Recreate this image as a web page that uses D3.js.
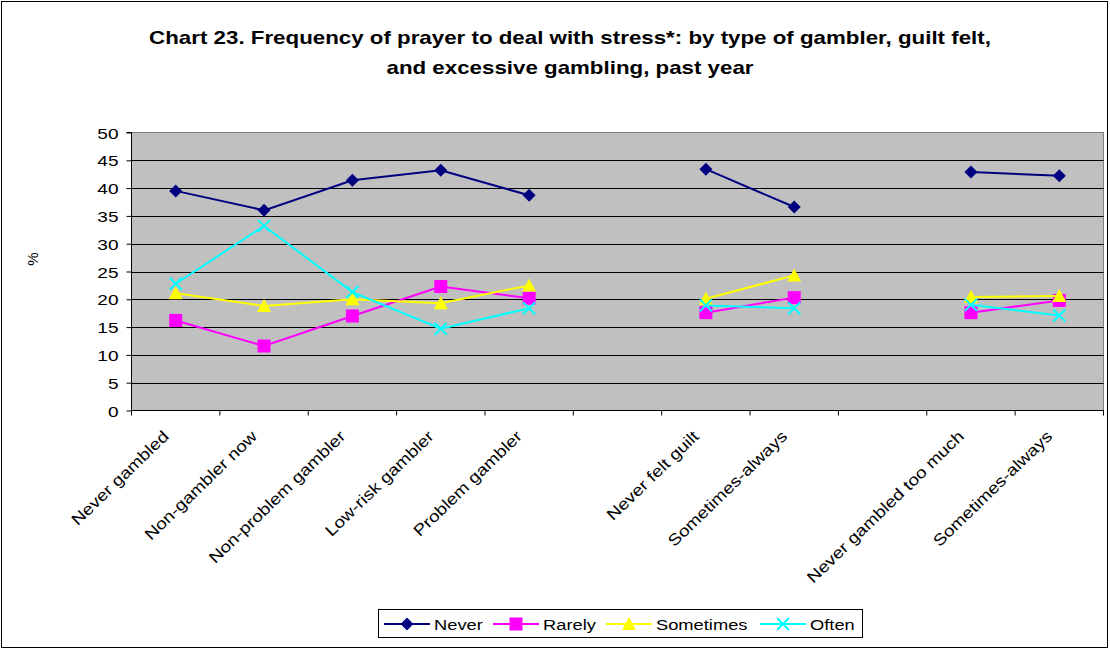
<!DOCTYPE html>
<html><head><meta charset="utf-8">
<script src="https://cdn.jsdelivr.net/npm/d3@7"></script>
<style>body{margin:0;background:#fff}svg{display:block}text{font-family:Arial,"Liberation Sans",sans-serif}</style>
</head><body>
<svg id="c" width="1110" height="649"></svg>
<script>
const categories = ["Never gambled","Non-gambler now","Non-problem gambler","Low-risk gambler","Problem gambler","","Never felt guilt","Sometimes-always","","Never gambled too much","Sometimes-always"];
const never     = [39.5, 36.0, 41.4, 43.2, 38.7, null, 43.4, 36.6, null, 42.9, 42.2];
const rarely    = [16.2, 11.6, 17.0, 22.3, 20.2, null, 17.6, 20.3, null, 17.6, 19.8];
const sometimes = [21.1, 18.8, 20.0, 19.3, 22.5, null, 20.1, 24.3, null, 20.4, 20.6];
const often     = [22.8, 33.2, 21.3, 14.7, 18.4, null, 18.9, 18.4, null, 19.0, 17.1];
const seriesNames = ["Never","Rarely","Sometimes","Often"];
const yTicks = [0,5,10,15,20,25,30,35,40,45,50];
const titleLines = ["Chart 23. Frequency of prayer to deal with stress*: by type of gambler, guilt felt,","and excessive gambling, past year"];

const series = [
  {name: seriesNames[0], values: never, color: "#000080", marker: "diamond"},
  {name: seriesNames[1], values: rarely, color: "#ff00ff", marker: "square"},
  {name: seriesNames[2], values: sometimes, color: "#ffff00", marker: "triangle"},
  {name: seriesNames[3], values: often, color: "#00ffff", marker: "x"}
];
const SX = 1.27; // horizontal text stretch seen in the reference

const svg = d3.select("#c");
svg.append("rect").attr("x",1.5).attr("y",1.5).attr("width",1106).attr("height",646).attr("fill","#fff").attr("stroke","#000").attr("stroke-width",1);

const L = 131.5, R = 1103.5, T = 132.5, B = 410.5;
const x = d3.scaleBand().domain(d3.range(categories.length)).range([L, R]);
const y = d3.scaleLinear().domain([0, 50]).range([B, T]);

svg.selectAll(".title").data(titleLines).join("text")
  .attr("transform",(d,i)=>`translate(570,${44 + i*30}) scale(1.24,1)`)
  .attr("text-anchor","middle").attr("font-size", 18).attr("font-weight","bold").text(d=>d);

const g = svg.append("g");
g.append("rect").attr("x",L).attr("y",T).attr("width",R-L).attr("height",B-T).attr("fill","#c0c0c0").attr("stroke","#808080").attr("stroke-width",1);

g.selectAll(".grid").data(yTicks.filter(t=>t>0 && t<50)).join("line")
  .attr("x1",L).attr("x2",R).attr("y1",d=>Math.round(y(d))+0.5).attr("y2",d=>Math.round(y(d))+0.5)
  .attr("stroke","#000").attr("stroke-width",1);

// y axis
const yAxis = d3.axisLeft(y).tickValues(yTicks).tickSize(5).tickPadding(4);
const ya = g.append("g").attr("transform",`translate(${L},0)`).call(yAxis);
ya.select(".domain").attr("stroke","#000").attr("d",`M-5,${T}H0V${B}`);
ya.selectAll("line").attr("stroke","#000");
ya.selectAll("text").attr("font-size",15).attr("fill","#000").attr("font-family","Arial, 'Liberation Sans', sans-serif")
  .attr("x",null).attr("dy",null)
  .attr("transform",`translate(-13,5.5) scale(${SX},1)`);

// x axis
const xa = g.append("g").attr("transform",`translate(0,${B})`);
xa.append("line").attr("x1",L).attr("x2",R).attr("stroke","#000");
const bounds = d3.range(categories.length+1).map(i => L + i*x.step());
xa.selectAll(".tk").data(bounds).join("line").attr("x1",d=>d).attr("x2",d=>d).attr("y1",0).attr("y2",5).attr("stroke","#000");
xa.selectAll(".lbl").data(categories).join("text")
  .attr("transform",(d,i)=>`translate(${x(i)+x.bandwidth()/2-6},${27}) rotate(-44) scale(1.18,1)`)
  .attr("text-anchor","end").attr("font-size",16).attr("fill","#000").text(d=>d);

svg.append("text").attr("transform","translate(38,259) rotate(-90)").attr("text-anchor","middle").attr("font-size",15).text("%");

const cx = i => x(i) + x.bandwidth()/2;
const line = d3.line().defined(d=>d.v!=null).x(d=>cx(d.i)).y(d=>y(d.v));

function drawMarker(sel, type, color){
  if(type==="diamond") sel.append("path").attr("d","M0,-6.5L6.5,0L0,6.5L-6.5,0Z").attr("fill",color);
  else if(type==="square") sel.append("rect").attr("x",-6.5).attr("y",-6.5).attr("width",13).attr("height",13).attr("fill",color);
  else if(type==="triangle") sel.append("path").attr("d","M0,-7L7,6L-7,6Z").attr("fill",color);
  else if(type==="x") sel.append("path").attr("d","M-6,-6L6,6M-6,6L6,-6").attr("stroke",color).attr("stroke-width",2).attr("fill","none");
}

series.forEach(s=>{
  const pts = s.values.map((v,i)=>({i,v}));
  g.append("path").datum(pts).attr("d",line).attr("fill","none").attr("stroke",s.color).attr("stroke-width",2);
  pts.filter(p=>p.v!=null).forEach(p=>{
    const m = g.append("g").attr("transform",`translate(${cx(p.i)},${y(p.v)})`);
    drawMarker(m, s.marker, s.color);
  });
});

// legend
const lg = svg.append("g");
lg.append("rect").attr("x",378.5).attr("y",609.5).attr("width",484).attr("height",28).attr("fill","#fff").attr("stroke","#000");
const legX = [384, 493, 606, 760];
series.forEach((s,k)=>{
  const lx = legX[k], ly = 624;
  lg.append("line").attr("x1",lx).attr("x2",lx+46).attr("y1",ly).attr("y2",ly).attr("stroke",s.color).attr("stroke-width",2);
  const m = lg.append("g").attr("transform",`translate(${lx+23},${ly})`);
  drawMarker(m, s.marker, s.color);
  lg.append("text").attr("transform",`translate(${lx+50},${ly+5.5}) scale(1.22,1)`).attr("font-size",15).text(s.name);
});
</script>
</body></html>
